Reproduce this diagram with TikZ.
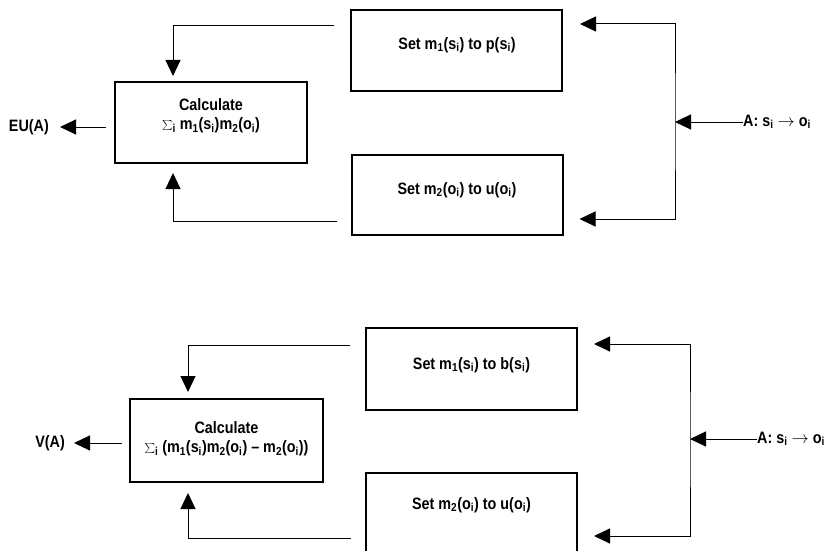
\documentclass[tikz,border=0pt]{standalone}
\usepackage{fontspec}
\setmainfont{Liberation Sans}[FakeStretch=0.87]
\usetikzlibrary{arrows.meta}
\begin{document}
\begin{tikzpicture}[x=1pt,y=-1pt,
  box/.style={draw, line width=2pt, inner sep=0pt},
  lbl/.style={font=\fontsize{16.5}{19}\selectfont\bfseries, align=center, inner sep=0pt},
  conn/.style={line width=1pt},
  tip/.style={-{Triangle[length=16pt,width=15pt]}},
  tips/.style={{Triangle[length=16pt,width=15pt]}-{Triangle[length=16pt,width=15pt]}}]
\clip (0,0) rectangle (828,551);
\fill[white] (0,0) rectangle (828,551);
% ---------- top diagram ----------
\node[box, minimum width=192pt, minimum height=81pt] (calcA) at (211,122.5) {};
\node[box, minimum width=211pt, minimum height=81pt] (m1A) at (456.5,50.5) {};
\node[box, minimum width=211pt, minimum height=80pt] (m2A) at (457,195) {};
\node[lbl] (calcAt) at (211,116) {Calculate\\$\sum$\textsubscript{i} m\textsubscript{1}(s\textsubscript{i})m\textsubscript{2}(o\textsubscript{i})};
\node[lbl] (m1At) at (457,45) {Set m\textsubscript{1}(s\textsubscript{i}) to p(s\textsubscript{i})};
\node[lbl] (m2At) at (457,190) {Set m\textsubscript{2}(o\textsubscript{i}) to u(o\textsubscript{i})};
\node[lbl, anchor=east] (euA) at (49,127) {EU(A)};
\node[lbl, anchor=west] (inA) at (743,122) {A: s\textsubscript{i} $\rightarrow$ o\textsubscript{i}};
\coordinate (c1s) at ([shift={(-16pt,-17pt)}]m1A.north west);
\coordinate (c1e) at ([shift={(-38pt,5pt)}]calcA.north);
\coordinate (c2s) at ([shift={(-14pt,15pt)}]m2A.south west);
\coordinate (c2e) at ([shift={(-38pt,-9pt)}]calcA.south);
\draw[conn,tip] (c1s) -| (c1e);
\draw[conn,tip] (c2s) -| (c2e);
\coordinate (euS) at ([shift={(-8pt,-4.5pt)}]calcA.west);
\coordinate (euE) at ([xshift=11pt]euA.east);
\draw[conn,tip] (euS) -- (euE);
\coordinate (jA) at (675,122);
\coordinate (t1A) at ([shift={(17pt,-15pt)}]m1A.north east);
\coordinate (t2A) at ([shift={(16pt,17pt)}]m2A.south east);
\draw[conn,tip] (inA.west) -- (jA);
\draw[conn,tips] (t1A) -| (jA) |- (t2A);
% ---------- bottom diagram ----------
\node[box, minimum width=193pt, minimum height=83pt] (calcB) at (226.5,440.5) {};
\node[box, minimum width=211pt, minimum height=82pt] (m1B) at (471.5,369) {};
\node[box, minimum width=211pt, minimum height=82pt] (m2B) at (471.5,514) {};
\node[lbl] (calcBt) at (226.5,439) {Calculate\\$\sum$\textsubscript{i} (m\textsubscript{1}(s\textsubscript{i})m\textsubscript{2}(o\textsubscript{i}) -- m\textsubscript{2}(o\textsubscript{i}))};
\node[lbl] (m1Bt) at (471.5,365) {Set m\textsubscript{1}(s\textsubscript{i}) to b(s\textsubscript{i})};
\node[lbl] (m2Bt) at (471.5,505) {Set m\textsubscript{2}(o\textsubscript{i}) to u(o\textsubscript{i})};
\node[lbl, anchor=east] (vB) at (65,443) {V(A)};
\node[lbl, anchor=west] (inB) at (757,439) {A: s\textsubscript{i} $\rightarrow$ o\textsubscript{i}};
\coordinate (d1s) at ([shift={(-15pt,-18pt)}]m1B.north west);
\coordinate (d1e) at ([shift={(-38.5pt,6pt)}]calcB.north);
\coordinate (d2s) at (351,538);
\coordinate (d2e) at ([shift={(-38.5pt,-10pt)}]calcB.south);
\draw[conn,tip] (d1s) -| (d1e);
\draw[conn,tip] (d2s) -| (d2e);
\coordinate (vS) at ([shift={(-7pt,-2.5pt)}]calcB.west);
\coordinate (vE) at ([xshift=9pt]vB.east);
\draw[conn,tip] (vS) -- (vE);
\coordinate (jB) at (690,439);
\coordinate (t1B) at (594,344);
\coordinate (t2B) at (594,536);
\draw[conn,tip] (inB.west) -- (jB);
\draw[conn,tips] (t1B) -| (jB) |- (t2B);
\end{tikzpicture}
\end{document}
